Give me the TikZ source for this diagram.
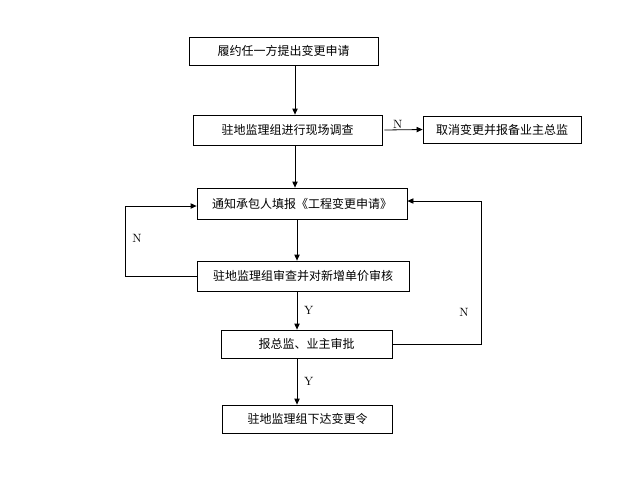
\documentclass[tikz,border=0pt]{standalone}
\usepackage{fontspec}
\newfontfamily\cjk{Noto Sans CJK SC}
\usetikzlibrary{arrows.meta}

\begin{document}
\begin{tikzpicture}[x=0.75pt,y=-0.75pt,font=\cjk\fontsize{9pt}{11pt}\selectfont]
    \tikzstyle{stage} = [draw,rectangle,inner sep=0pt,line width=0.6pt]
    \tikzstyle{flow} = [-{Triangle[length=4.5pt,width=4pt]},line width=0.6pt]
    \tikzstyle{answer} = [font=\rmfamily\fontsize{9pt}{11pt}\selectfont,inner sep=0pt]
    \useasboundingbox (0,0) rectangle (620,487);
      \node[stage,minimum width=141.75pt,minimum height=21pt] (apply) at (283.5,51) {履约任一方提出变更申请};
      \node[stage,minimum width=141.75pt,minimum height=22.5pt] (survey) at (287.5,130) {驻地监理组进行现场调查};
      \node[stage,minimum width=118.5pt,minimum height=20.25pt] (cancel) at (502,129.5) {取消变更并报备业主总监};
      \node[stage,minimum width=157.5pt,minimum height=23.25pt] (notify) at (302,203.5) {通知承包人填报《工程变更申请》};
      \node[stage,minimum width=159pt,minimum height=22.5pt] (review) at (303,276) {驻地监理组审查并对新增单价审核};
      \node[stage,minimum width=128.25pt,minimum height=21pt] (approve) at (306.5,344) {报总监、业主审批};
      \node[stage,minimum width=127.5pt,minimum height=21pt] (order) at (307.5,419) {驻地监理组下达变更令};
      % spine of the vertical arrows and the turning points of the loops
      \coordinate (spineA) at (295,0);
      \coordinate (spineB) at (297,0);
      \coordinate (lturn) at (125,206);
      \coordinate (rturn) at (481,201);
      \draw[flow] (apply.south -| spineA) -- (survey.north -| spineA);
      \draw[flow] (survey.south -| spineA) -- (notify.north -| spineA);
      \draw[flow] (notify.south -| spineB) -- (review.north -| spineB);
      \draw[flow] (review.south -| spineB) -- (approve.north -| spineB) node[answer,midway,right=5pt] (yesA) {Y};
      \draw[flow] (approve.south -| spineB) -- (order.north -| spineB) node[answer,midway,right=5pt] (yesB) {Y};
      \draw[flow] ([xshift=1.5pt]survey.east) -- (cancel.west) node[answer,pos=0.35,above=1pt] (noA) {N};
      \draw[flow] (review.west) -| (lturn) -- (lturn -| notify.west);
      \draw[flow] (approve.east) -| (rturn) -- (rturn -| notify.east);
      \node[answer] (noB) at (137,238) {N};
      \node[answer] (noC) at (464,312) {N};
  \end{tikzpicture}
\end{document}
